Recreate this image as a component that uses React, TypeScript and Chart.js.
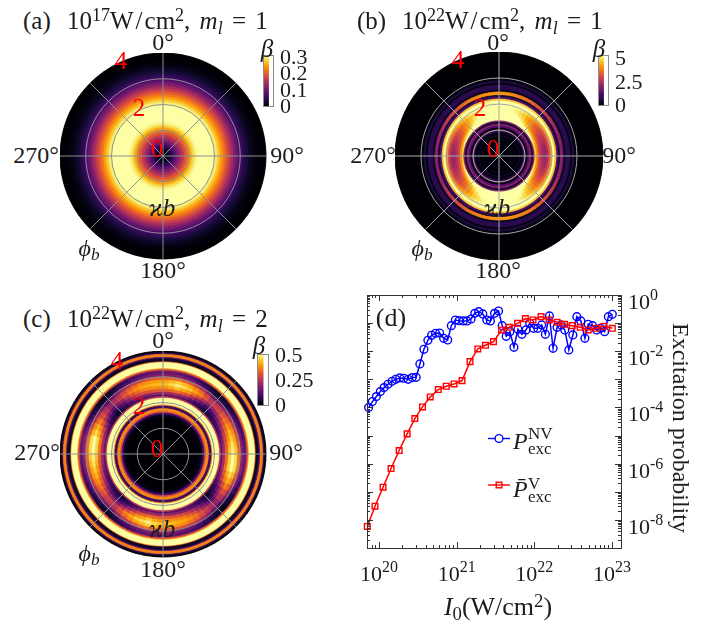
import React, { useEffect, useRef } from "react";
import { Chart, registerables } from "chart.js";
Chart.register(...registerables);

const SERIF = '"Liberation Serif", serif';
const INK = "#1c1c1c";

// ---------- panel (a): rotationally symmetric ring profile ----------
const radiiA = [0.1,0.2,0.3,0.4,0.5,0.6,0.7,0.8,0.9,1,1.1,1.2,1.3,2,2.1,2.2,2.3,2.4,2.5,2.6,2.7,2.8,2.9,3,3.1,3.2,3.3,3.4,3.5,3.6,3.7,3.8,4];
const betaA = [0.004,0.012,0.03,0.05,0.075,0.1,0.125,0.15,0.18,0.205,0.24,0.27,0.29,0.32,0.285,0.26,0.235,0.21,0.185,0.16,0.135,0.11,0.09,0.07,0.055,0.04,0.03,0.02,0.012,0.007,0.003,0.002,0];

// ---------- panel (b) ----------
const radiiB = [0.115,0.19,0.27,0.35,0.42,0.5,0.58,0.65,0.73,0.81,0.88,0.94,1,1.08,1.15,1.23,1.29,1.35,1.42,1.5,1.58,1.65,1.73,1.81,1.88,1.96,2.04,2.12,2.19,2.27,2.33,2.46,2.54,2.73,2.79,2.88,2.96,4];
const betaB: (number | number[])[] = [
  0,0.15,0.03,0.15,0.03,0.2,0.03,0.25,0.03,0.35,0.08,0.5,2,0.15,1.3,2,0.3,1.8,
  [6,6,6,6,6,5.8,5.5,5,4.8,4.8,5,5.3,5.6,6,6,6,6,6],
  [6,6,6,6,5.5,5,4.5,4.2,4,4,4.1,4.4,4.8,5.3,6,6,6,6],
  [6,6,6,5.6,4.8,4.1,3.6,3.3,3,3,3.2,3.5,3.9,4.6,5.3,6,6,6],
  [6,6,5.8,5.2,4.4,3.7,3.2,2.8,2.6,2.6,2.8,3.1,3.5,4.2,5,5.7,6,6],
  [5.8,5.8,5.5,5,4.2,3.5,3,2.6,2.3,2.3,2.5,2.9,3.4,4.1,4.8,5.5,5.8,5.9],
  [5.6,5.6,5.3,4.8,4,3.4,2.9,2.5,2.2,2.2,2.4,2.8,3.3,4,4.7,5.3,5.6,5.7],
  [5.5,5.5,5.2,4.8,4.1,3.5,3,2.7,2.5,2.5,2.7,3,3.5,4.1,4.7,5.2,5.5,5.6],
  [5.8,5.7,5.4,5,4.4,3.9,3.5,3.3,3.2,3.2,3.3,3.6,4,4.5,5,5.4,5.7,5.8],
  [6,6,5.8,5.5,5.1,4.7,4.4,4.2,4.1,4.1,4.2,4.4,4.7,5.1,5.5,5.8,6,6],
  5.8,4.8,1.2,0.4,
  [4.2,4.1,3.9,3.5,3.1,2.7,2.3,2.1,2,2,2.1,2.3,2.7,3.1,3.5,3.9,4.1,4.2],
  0.3,0.8,0.05,0.6,0.1,0,
];

// ---------- panel (c) ----------
const radiiC = [1.4,1.51,1.59,1.65,1.76,1.82,1.86,1.9,2.17,2.23,2.29,2.4,2.52,2.64,2.75,2.87,2.98,3.1,3.22,3.275,3.31,3.55,3.58,3.7,3.75,3.87,3.93,4];
const betaC: (number | number[])[] = [
  0.002,0.02,0.1,0.3,0.37,0.1,0.08,0.35,0.55,0.25,
  [0.12,0.12,0.1,0.08,0.06,0.07,0.08,0.1,0.12,0.13,0.13,0.1,0.07,0.05,0.07,0.09,0.11,0.12],
  [0.2,0.22,0.18,0.1,0.05,0.07,0.11,0.15,0.2,0.22,0.22,0.17,0.08,0.03,0.08,0.14,0.18,0.2],
  [0.32,0.34,0.29,0.18,0.1,0.12,0.19,0.26,0.31,0.34,0.34,0.27,0.14,0.07,0.14,0.23,0.29,0.31],
  [0.38,0.43,0.38,0.28,0.18,0.2,0.28,0.35,0.41,0.45,0.45,0.36,0.22,0.13,0.2,0.3,0.36,0.38],
  [0.43,0.48,0.44,0.36,0.26,0.28,0.35,0.42,0.47,0.5,0.5,0.42,0.3,0.2,0.27,0.35,0.4,0.42],
  [0.4,0.44,0.4,0.33,0.24,0.26,0.32,0.38,0.42,0.46,0.46,0.38,0.28,0.19,0.25,0.32,0.37,0.39],
  [0.32,0.34,0.3,0.24,0.16,0.18,0.24,0.29,0.32,0.35,0.35,0.28,0.2,0.12,0.18,0.25,0.29,0.31],
  [0.18,0.18,0.15,0.1,0.05,0.07,0.11,0.15,0.18,0.2,0.2,0.15,0.07,0.03,0.07,0.12,0.15,0.17],
  [0.15,0.14,0.11,0.07,0.03,0.04,0.07,0.1,0.13,0.15,0.15,0.1,0.05,0.02,0.05,0.09,0.12,0.14],
  0.28,0.38,0.55,0.33,0.03,0.12,0.36,0.08,0,
];

// ---------- panel (d): log10 of intensity and of probability ----------
const logI_NV = [19.866,19.914,19.966,20.017,20.065,20.116,20.168,20.216,20.267,20.319,20.375,20.427,20.478,20.526,20.578,20.629,20.677,20.728,20.78,20.832,20.884,20.931,20.983,21.03,21.086,21.134,21.185,21.233,21.284,21.336,21.388,21.435,21.487,21.539,21.586,21.638,21.685,21.737,21.789,21.84,21.892,21.94,21.991,22.043,22.095,22.142,22.194,22.241,22.293,22.345,22.392,22.444,22.496,22.547,22.599,22.651,22.694,22.75,22.802,22.853,22.905,22.953,23.004];
const logP_NV = [-4.005,-3.791,-3.614,-3.436,-3.294,-3.175,-3.069,-2.998,-2.95,-2.962,-2.998,-2.938,-2.927,-2.453,-1.931,-1.611,-1.434,-1.363,-1.351,-1.54,-1.6,-1.09,-0.889,-0.912,-0.924,-0.924,-0.853,-0.652,-0.592,-0.675,-0.889,-0.924,-0.652,-0.569,-1.09,-1.469,-1.303,-1.86,-1.22,-1.398,-1.244,-1.007,-1.185,-1.185,-1.066,-1.398,-0.746,-1.896,-1.149,-1.066,-1.244,-1.955,-1.422,-0.77,-0.924,-1.54,-1.043,-1.09,-1.244,-1.185,-1.303,-0.77,-0.687];
const logI_V = [19.849,19.948,20.052,20.155,20.259,20.362,20.461,20.56,20.659,20.763,20.866,20.966,21.069,21.172,21.272,21.371,21.474,21.578,21.677,21.784,21.884,21.983,22.086,22.19,22.293,22.388,22.487,22.591,22.694,22.797,22.897,23.004];
const logP_V = [-8.235,-7.512,-6.837,-6.173,-5.533,-4.941,-4.396,-3.981,-3.626,-3.365,-3.246,-3.164,-3.045,-2.37,-1.919,-1.789,-1.659,-1.244,-1.149,-1.007,-0.841,-0.889,-0.77,-0.889,-0.972,-1.043,-1.09,-1.149,-1.244,-1.185,-1.114,-1.185];
const xExponents = [20, 21, 22, 23];
const yExponents = [0, -2, -4, -6, -8];
const cbarTicksA = [0, 0.1, 0.2, 0.3];
const cbarTicksB = [0, 2.5, 5];
const cbarTicksC = [0, 0.25, 0.5];

// inferno colour map
const inferno = [[0,0,4],[22,11,57],[66,10,104],[106,23,110],[147,38,103],[188,55,84],[221,81,58],[243,120,25],[252,165,10],[246,215,70],[252,255,164]];
function cmap(t: number) {
  const v = Math.min(1, Math.max(0, t)) * (inferno.length - 1);
  const i = Math.min(inferno.length - 2, Math.floor(v));
  const f = v - i;
  const c = inferno[i].map((a, k) => Math.round(a + (inferno[i + 1][k] - a) * f));
  return `rgb(${c[0]},${c[1]},${c[2]})`;
}

const SECTORS = 72;
const sectorLabels = Array.from({ length: SECTORS }, (_, i) => `${i * 5}`);

// 5-degree shading of a table whose cells are 10 degrees wide
function shade(row: number | number[], i: number) {
  if (!Array.isArray(row)) return row;
  const k = Math.floor(i / 2);
  const a = row[k % row.length];
  const b = row[(k + 1) % row.length];
  return i % 2 === 0 ? a : (a + b) / 2;
}

const underlay = {
  id: "underlay",
  beforeDatasetsDraw(c: any) {
    const s = c.scales.r, g = c.ctx;
    g.save();
    g.fillStyle = "rgb(0,0,4)";
    g.beginPath();
    g.arc(s.xCenter, s.yCenter, s.getDistanceFromCenterForValue(4) - 0.2, 0, Math.PI * 2);
    g.fill();
    g.restore();
  },
};

function polarConfig(radii: number[], beta: (number | number[])[], vmax: number, gridColor: string): any {
  const datasets = radii.map((r, j) => {
    const colors = sectorLabels.map((_, i) => cmap(shade(beta[j], i) / vmax));
    return { data: sectorLabels.map(() => r), backgroundColor: colors, borderColor: colors, borderWidth: 0.8 };
  });
  return {
    type: "polarArea",
    plugins: [underlay],
    data: { labels: sectorLabels, datasets },
    options: {
      animation: false, responsive: false, events: [],
      layout: { padding: 0 },
      plugins: { legend: { display: false }, tooltip: { enabled: false } },
      scales: {
        r: {
          min: 0, max: 4,
          ticks: { display: false, stepSize: 1 },
          pointLabels: { display: false },
          grid: {
            circular: true, z: 1, lineWidth: 1,
            color: (c: any) => (c.tick && c.tick.value >= 4 ? "rgba(0,0,0,0)" : gridColor),
          },
          angleLines: { display: true, color: gridColor, lineWidth: (c: any) => (c.index % 9 === 0 ? 1 : 0) },
        },
      },
    },
  };
}

function colorbarConfig(vmax: number, ticks: number[], top: number): any {
  const levels = 40;
  const datasets = Array.from({ length: levels }, (_, i) => ({
    data: [[(i / levels) * top, ((i + 1) / levels) * top + top * 0.004]],
    backgroundColor: cmap((i + 0.5) / levels),
    barPercentage: 1, categoryPercentage: 1, grouped: false,
  }));
  const frame = {
    id: "frame",
    afterDraw(c: any) {
      const a = c.chartArea, g = c.ctx;
      g.save(); g.strokeStyle = "#8c8c8c"; g.lineWidth = 1;
      g.strokeRect(a.left + 0.5, a.top + 0.5, a.right - a.left - 1, a.bottom - a.top - 1);
      g.restore();
    },
  };
  return {
    type: "bar",
    data: { labels: ["b"], datasets },
    plugins: [frame],
    options: {
      animation: false, responsive: false, events: [],
      layout: { padding: { top: 20, bottom: 20, left: 0, right: 0 } },
      plugins: { legend: { display: false }, tooltip: { enabled: false } },
      scales: {
        x: { display: false, offset: false },
        y: {
          position: "right", min: 0, max: top,
          grid: { display: false, drawTicks: false }, border: { display: false },
          afterBuildTicks: (s: any) => { s.ticks = ticks.map((v) => ({ value: v })); },
          afterFit: (s: any) => { s.width = 52; },
          ticks: {
            padding: 6, color: INK, autoSkip: false, maxRotation: 0,
            font: { family: SERIF, size: 22 },
            callback: (v: number) => String(v),
          },
        },
      },
    },
  };
}

const logTicks = {
  id: "logTicks",
  afterDraw(c: any) {
    const g = c.ctx, a = c.chartArea, X = c.scales.x, Y = c.scales.y;
    g.save();
    g.strokeStyle = "#333"; g.lineWidth = 1;
    g.strokeRect(Math.round(a.left) + 0.5, Math.round(a.top) + 0.5, Math.round(a.right - a.left), Math.round(a.bottom - a.top));
    g.beginPath();
    const hTick = (v: number, len: number) => {
      const p = Math.round(X.getPixelForValue(v)) + 0.5;
      if (p < a.left || p > a.right) return;
      g.moveTo(p, a.bottom); g.lineTo(p, a.bottom - len);
      g.moveTo(p, a.top); g.lineTo(p, a.top + len);
    };
    const vTick = (v: number, len: number) => {
      const p = Math.round(Y.getPixelForValue(v)) + 0.5;
      if (p < a.top || p > a.bottom) return;
      g.moveTo(a.left, p); g.lineTo(a.left + len, p);
      g.moveTo(a.right, p); g.lineTo(a.right - len, p);
    };
    for (let e = 19; e <= 23; e++) for (let m = 1; m <= 9; m++) hTick(m * 10 ** e, m === 1 ? 6 : 3);
    for (let e = -9; e <= 0; e++) for (let m = 1; m <= 9; m++) vTick(m * 10 ** e, m === 1 ? 6 : 3);
    g.stroke();

    // tick labels with superscript exponents
    g.fillStyle = INK; g.textBaseline = "alphabetic";
    const drawPow = (x: number, y: number, exp: number) => {
      g.font = `22px ${SERIF}`; g.textAlign = "left";
      g.fillText("10", x, y);
      const w = g.measureText("10").width;
      g.font = `16px ${SERIF}`;
      g.fillText(String(exp), x + w, y - 9);
    };
    xExponents.forEach((e) => {
      g.font = `22px ${SERIF}`; const w1 = g.measureText("10").width;
      g.font = `16px ${SERIF}`; const w2 = g.measureText(String(e)).width;
      drawPow(X.getPixelForValue(10 ** e) - (w1 + w2) / 2, a.bottom + 33, e);
    });
    yExponents.forEach((e) => drawPow(a.right + 7, Y.getPixelForValue(10 ** e) + 14, e));

    // legend samples
    const lx0 = a.left + 121, lx1 = a.left + 143, lxm = a.left + 132;
    const ly0 = a.top + 143.5, ly1 = a.top + 190;
    g.lineWidth = 1.4;
    g.strokeStyle = "#0000ff";
    g.beginPath(); g.moveTo(lx0, ly0); g.lineTo(lx1, ly0); g.stroke();
    g.beginPath(); g.arc(lxm, ly0, 3.9, 0, Math.PI * 2); g.fillStyle = "#fff"; g.fill(); g.stroke();
    g.strokeStyle = "#ff0000";
    g.beginPath(); g.moveTo(lx0, ly1); g.lineTo(lx1, ly1); g.stroke();
    g.strokeRect(lxm - 2.8, ly1 - 2.8, 5.6, 5.6);
    g.restore();
  },
};

function probabilityConfig(): any {
  const pts = (xs: number[], ys: number[]) => xs.map((x, i) => ({ x: 10 ** x, y: 10 ** ys[i] }));
  return {
    type: "line",
    plugins: [logTicks],
    data: {
      datasets: [
        {
          label: "P_exc^V", data: pts(logI_V, logP_V), borderColor: "#ff0000", backgroundColor: "rgba(0,0,0,0)",
          borderWidth: 1.5, pointStyle: "rect", pointRadius: 4, pointBorderWidth: 1.4, pointBorderColor: "#ff0000",
          pointBackgroundColor: "rgba(0,0,0,0)", tension: 0, clip: false,
        },
        {
          label: "P_exc^NV", data: pts(logI_NV, logP_NV), borderColor: "#0000ff", backgroundColor: "rgba(0,0,0,0)",
          borderWidth: 1.5, pointStyle: "circle", pointRadius: 3.9, pointBorderWidth: 1.4, pointBorderColor: "#0000ff",
          pointBackgroundColor: "rgba(0,0,0,0)", tension: 0, clip: false,
        },
      ],
    },
    options: {
      animation: false, responsive: false, events: [],
      layout: { padding: { left: 17, top: 15, right: 100, bottom: 76 } },
      plugins: { legend: { display: false }, tooltip: { enabled: false } },
      scales: {
        x: {
          type: "logarithmic", min: 10 ** 19.845, max: 10 ** 23.116,
          grid: { display: false, drawTicks: false }, border: { display: false }, ticks: { display: false },
        },
        y: {
          type: "logarithmic", min: 1e-9, max: 1,
          grid: { display: false, drawTicks: false }, border: { display: false }, ticks: { display: false },
        },
      },
    },
  };
}

const base: React.CSSProperties = {
  position: "absolute", fontFamily: SERIF, color: INK, whiteSpace: "nowrap", lineHeight: 1,
  transform: "translate(-50%,-50%)",
};

function T({ x, y, size = 24, color, italic, left, children, rotate, spacing }: any) {
  return (
    <div
      style={{
        ...base, left: x, top: y, fontSize: size, color: color || INK,
        fontStyle: italic ? "italic" : "normal", wordSpacing: spacing,
        transform: rotate ? `translate(-50%,-50%) rotate(${rotate}deg)` : left ? "translate(0,-50%)" : base.transform,
      }}
    >
      {children}
    </div>
  );
}
const Sup = ({ children }: any) => (
  <span style={{ fontSize: "0.72em", position: "relative", top: "-0.42em" }}>{children}</span>
);
const Sub = ({ children }: any) => (
  <span style={{ fontSize: "0.72em", position: "relative", top: "0.25em" }}>{children}</span>
);

function Title({ x1, x2, y, tag, exp, ml }: any) {
  return (
    <>
      <T x={x1} y={y} left size={25}>{tag}</T>
      <T x={x2} y={y} left size={25} spacing={3}>
        10<Sup>{exp}</Sup>W<span style={{ margin: "0 2px" }}>/</span>cm<Sup>2</Sup>, <i>m</i><Sub><i>l</i></Sub> = {ml}
      </T>
    </>
  );
}

function PolarLabels({ top, bottom, left, right, cx, yMid, yPhi, phiX, yK, red }: any) {
  return (
    <>
      <T x={cx} y={top}>0°</T>
      <T x={left} y={yMid}>270°</T>
      <T x={right} y={yMid}>90°</T>
      <T x={cx} y={bottom}>180°</T>
      <T x={phiX} y={yPhi} italic>ϕ<Sub>b</Sub></T>
      <T x={cx - 1} y={yK} italic size={25}>ϰb</T>
      {red.map((r: any) => (
        <T key={r[0]} x={r[1]} y={r[2]} size={25} color="#ff0000">{r[0]}</T>
      ))}
    </>
  );
}

const canvasSpecs = [
  { left: 60, top: 53, w: 207, h: 207 },
  { left: 395, top: 52, w: 208, h: 208 },
  { left: 60, top: 351, w: 207, h: 207 },
  { left: 263, top: 35, w: 63, h: 92 },
  { left: 598, top: 35, w: 63, h: 91 },
  { left: 257, top: 334, w: 64, h: 92 },
  { left: 350, top: 280, w: 371, h: 344 },
];

export default function App() {
  const refs = useRef<(HTMLCanvasElement | null)[]>([]);
  useEffect(() => {
    const configs = [
      polarConfig(radiiA, betaA, 0.3, "#8f8f8f"),
      polarConfig(radiiB, betaB, 5.5, "#a8a8a8"),
      polarConfig(radiiC, betaC, 0.5, "#8f8f8f"),
      colorbarConfig(0.32, cbarTicksA, 0.32),
      colorbarConfig(5.5, cbarTicksB, 5.5),
      colorbarConfig(0.525, cbarTicksC, 0.525),
      probabilityConfig(),
    ];
    const charts = configs.map((cfg, i) => new Chart(refs.current[i] as HTMLCanvasElement, cfg));
    return () => charts.forEach((c) => c.destroy());
  }, []);
  return (
    <div style={{ position: "absolute", left: 0, top: 0, width: 721, height: 624, overflow: "hidden", background: "#fff" }}>
      {canvasSpecs.map((s, i) => (
        <canvas
          key={i}
          ref={(el) => { refs.current[i] = el; }}
          width={s.w}
          height={s.h}
          style={{ position: "absolute", left: s.left, top: s.top, width: s.w, height: s.h }}
        />
      ))}
      <Title x1={23} x2={67} y={20} tag="(a)" exp={17} ml={1} />
      <Title x1={357} x2={402} y={20} tag="(b)" exp={22} ml={1} />
      <Title x1={23} x2={67} y={318} tag="(c)" exp={22} ml={2} />
      <PolarLabels top={42} bottom={270} left={36} right={287} cx={163} yMid={155} phiX={89} yPhi={248} yK={207}
        red={[["0", 157, 148], ["2", 139, 107], ["4", 121, 60]]} />
      <PolarLabels top={42} bottom={270} left={373} right={619} cx={498} yMid={155} phiX={422} yPhi={248} yK={207}
        red={[["0", 493, 148], ["2", 480, 107], ["4", 458, 59]]} />
      <PolarLabels top={340} bottom={569} left={37} right={286} cx={163} yMid={452} phiX={89} yPhi={553} yK={528}
        red={[["0", 157, 448], ["2", 139, 405], ["4", 117, 360]]} />
      <T x={267} y={48} italic size={25}>β</T>
      <T x={599} y={48} italic size={25}>β</T>
      <T x={259} y={345} italic size={25}>β</T>
      <T x={391} y={318} size={26}>(d)</T>
      <T x={681} y={428} size={24} rotate={90}>Excitation probability</T>
      <T x={498} y={607} size={26}>
        <i>I</i><Sub>0</Sub>(W/cm<Sup>2</Sup>)
      </T>
      <T x={513} y={441} left size={24} italic>P</T>
      <T x={528} y={433} left size={17}>NV</T>
      <T x={528} y={448} left size={17}>exc</T>
      <T x={513} y={489} left size={24} italic>P̄</T>
      <T x={528} y={483} left size={17}>V</T>
      <T x={528} y={496} left size={17}>exc</T>
    </div>
  );
}
